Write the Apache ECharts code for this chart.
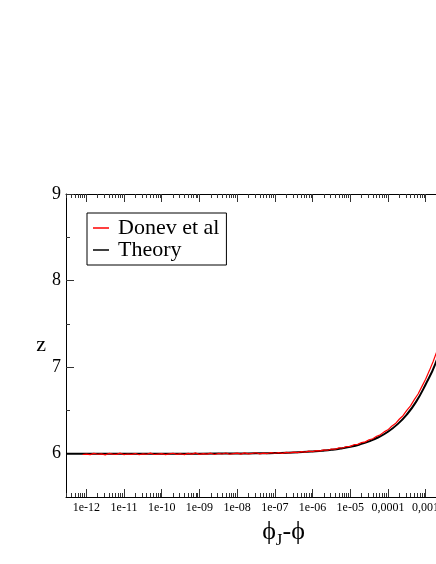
<!DOCTYPE html>
<html><head><meta charset="utf-8">
<script src="https://cdn.jsdelivr.net/npm/echarts@6/dist/echarts.min.js"></script>
<style>html,body{margin:0;padding:0;background:#fff}#c{width:436px;height:564px}</style>
</head><body><div id="c"></div>
<script>
// x values are log10(phi_J - phi)
const theoryLogX = [-12.54, -11, -10, -9, -8, -7.5, -7, -6.5, -6, -5.75, -5.5, -5.25, -5, -4.75, -4.5, -4.25, -4, -3.75, -3.5, -3.25, -3, -2.75, -2.5, -2.25, -2];
const theoryZ = [6.000, 6.000, 6.000, 6.001, 6.003, 6.004, 6.008, 6.014, 6.025, 6.034, 6.045, 6.060, 6.080, 6.107, 6.143, 6.190, 6.254, 6.339, 6.452, 6.602, 6.800, 7.030, 7.360, 7.800, 8.350];

const donevLogX = [-12.1, -12.0, -11.9, -11.8, -11.7, -11.6, -11.5, -11.4, -11.3, -11.2, -11.1, -11.0,
  -10.9, -10.8, -10.7, -10.6, -10.5, -10.4, -10.3, -10.2, -10.1, -10.0,
  -9.9, -9.8, -9.7, -9.6, -9.5, -9.4, -9.3, -9.2, -9.1, -9.0,
  -8.9, -8.8, -8.7, -8.6, -8.5, -8.4, -8.3, -8.2, -8.1, -8.0,
  -7.9, -7.8, -7.7, -7.6, -7.5, -7.4, -7.3, -7.2, -7.1, -7.0,
  -6.9, -6.8, -6.7, -6.6, -6.5, -6.4, -6.3, -6.2, -6.1, -6.0,
  -5.9, -5.8, -5.7, -5.6, -5.5, -5.4, -5.3, -5.2, -5.1, -5.0,
  -4.9, -4.8, -4.7, -4.6, -4.5, -4.4, -4.3, -4.2, -4.1, -4.0,
  -3.9, -3.8, -3.7, -3.6, -3.5, -3.4, -3.3, -3.2, -3.1, -3.0,
  -2.9, -2.8, -2.7, -2.6];
const donevZ = [5.991, 5.996, 5.989, 6.004, 5.994, 5.998, 5.987, 6.003, 5.995, 5.992, 6.006, 5.990,
  5.997, 5.993, 6.002, 5.988, 5.999, 5.994, 6.007, 5.991, 5.996, 6.001,
  5.989, 5.998, 6.005, 5.993, 6.000, 5.990, 6.004, 5.996, 6.009, 5.992,
  6.001, 5.995, 6.006, 5.991, 6.003, 5.997, 6.008, 5.994, 6.002, 6.006,
  5.996, 6.009, 5.999, 6.004, 6.011, 5.998, 6.007, 6.002, 6.013, 6.005,
  6.012, 6.004, 6.016, 6.010, 6.019, 6.013, 6.024, 6.018, 6.029, 6.025,
  6.036, 6.032, 6.044, 6.040, 6.054, 6.052, 6.067, 6.066, 6.083, 6.085,
  6.104, 6.108, 6.129, 6.137, 6.161, 6.173, 6.201, 6.218, 6.252, 6.276,
  6.317, 6.348, 6.398, 6.439, 6.500, 6.553, 6.625, 6.690, 6.775, 6.860,
  6.960, 7.065, 7.185, 7.325];

const xMajorTicks = [-12, -11, -10, -9, -8, -7, -6, -5, -4, -3, -2, -1];
const xTickLabels = ['1e-12', '1e-11', '1e-10', '1e-09', '1e-08', '1e-07', '1e-06', '1e-05', '0,0001', '0,001', '0,01', '0,1'];
const minorMultipliers = [2, 3, 4, 5, 6, 7, 8, 9];
const yMajorTicks = [6, 7, 8, 9];
const yMinorTicks = [6.5, 7.5, 8.5];

const X_MIN = -12.54, X_MAX = -1, Y_MIN = 5.5, Y_MAX = 9;
const SERIF = "'Liberation Serif','Times New Roman',serif";

const xMinorTicks = [];
for (let n = -13; n <= -2; n++) {
  minorMultipliers.forEach(k => {
    const v = n + Math.log10(k);
    if (v > X_MIN && v < X_MAX) xMinorTicks.push(v);
  });
}

const gridBox = { left: 66, top: 194, width: 435, height: 303, containLabel: false, outerBoundsMode: 'none' };
const tickLine = { color: '#333', width: 1 };

const chart = echarts.init(document.getElementById('c'), null, { renderer: 'canvas' });
chart.setOption({
  animation: false,
  backgroundColor: '#fff',
  grid: [Object.assign({}, gridBox), Object.assign({}, gridBox)],
  legend: {
    left: 87, top: 213, orient: 'vertical',
    data: ['Donev et al', 'Theory'],
    icon: 'rect',
    backgroundColor: '#fff', borderColor: '#000', borderWidth: 1, borderRadius: 0,
    padding: [4, 7, 4, 6], itemGap: 0, itemWidth: 16, itemHeight: 1.5,
    textStyle: { fontFamily: SERIF, fontSize: 22, color: '#000', lineHeight: 21, padding: [0, 0, 0, 4] }
  },
  xAxis: [
    {
      gridIndex: 0, type: 'value', position: 'bottom', min: X_MIN, max: X_MAX,
      axisLine: { show: true, onZero: false, lineStyle: { color: '#000', width: 1 } },
      axisTick: { show: true, inside: true, length: 8, customValues: xMajorTicks, lineStyle: tickLine },
      axisLabel: {
        customValues: xMajorTicks, margin: 5, color: '#000', fontFamily: SERIF, fontSize: 12,
        formatter: v => xTickLabels[xMajorTicks.indexOf(Math.round(v))]
      },
      splitLine: { show: false },
      name: '{p|ϕ}{s|J}{p|-ϕ}', nameLocation: 'middle', nameGap: 22,
      nameTextStyle: {
        rich: {
          p: { fontFamily: SERIF, fontSize: 26, color: '#000', verticalAlign: 'top', lineHeight: 26 },
          s: { fontFamily: SERIF, fontSize: 17, color: '#000', verticalAlign: 'top', padding: [13, 0, 0, 0], lineHeight: 17 }
        }
      }
    },
    {
      gridIndex: 0, type: 'value', position: 'top', min: X_MIN, max: X_MAX,
      axisLine: { show: true, onZero: false, lineStyle: { color: '#000', width: 1 } },
      axisTick: { show: true, inside: true, length: 8, customValues: xMajorTicks, lineStyle: tickLine },
      axisLabel: { show: false }, splitLine: { show: false }
    },
    {
      gridIndex: 1, type: 'value', position: 'bottom', min: X_MIN, max: X_MAX,
      axisLine: { show: false },
      axisTick: { show: true, inside: true, length: 4, customValues: xMinorTicks, lineStyle: tickLine },
      axisLabel: { show: false }, splitLine: { show: false }
    },
    {
      gridIndex: 1, type: 'value', position: 'top', min: X_MIN, max: X_MAX,
      axisLine: { show: false },
      axisTick: { show: true, inside: true, length: 4, customValues: xMinorTicks, lineStyle: tickLine },
      axisLabel: { show: false }, splitLine: { show: false }
    }
  ],
  yAxis: [
    {
      gridIndex: 0, type: 'value', position: 'left', min: Y_MIN, max: Y_MAX,
      axisLine: { show: true, onZero: false, lineStyle: { color: '#000', width: 1 } },
      axisTick: { show: true, inside: true, length: 8, customValues: yMajorTicks, lineStyle: tickLine },
      axisLabel: { customValues: yMajorTicks, margin: 5, color: '#000', fontFamily: SERIF, fontSize: 18 },
      splitLine: { show: false },
      name: 'z', nameLocation: 'middle', nameRotate: 0, nameGap: 17,
      nameTextStyle: { fontFamily: SERIF, fontSize: 22, color: '#000' }
    },
    {
      gridIndex: 1, type: 'value', position: 'left', min: Y_MIN, max: Y_MAX,
      axisLine: { show: false },
      axisTick: { show: true, inside: true, length: 4, customValues: yMinorTicks, lineStyle: tickLine },
      axisLabel: { show: false }, splitLine: { show: false }
    }
  ],
  series: [
    {
      name: 'Theory', type: 'line', xAxisIndex: 0, yAxisIndex: 0,
      data: theoryLogX.map((x, i) => [x, theoryZ[i]]),
      smooth: true, symbol: 'none', lineStyle: { color: '#000', width: 2 }, itemStyle: { color: '#000' }
    },
    {
      name: 'Donev et al', type: 'line', xAxisIndex: 0, yAxisIndex: 0,
      data: donevLogX.map((x, i) => [x, donevZ[i]]),
      symbol: 'none', lineStyle: { color: '#ff0000', width: 1.2 }, itemStyle: { color: '#ff0000' }
    }
  ]
});
</script>
</body></html>
